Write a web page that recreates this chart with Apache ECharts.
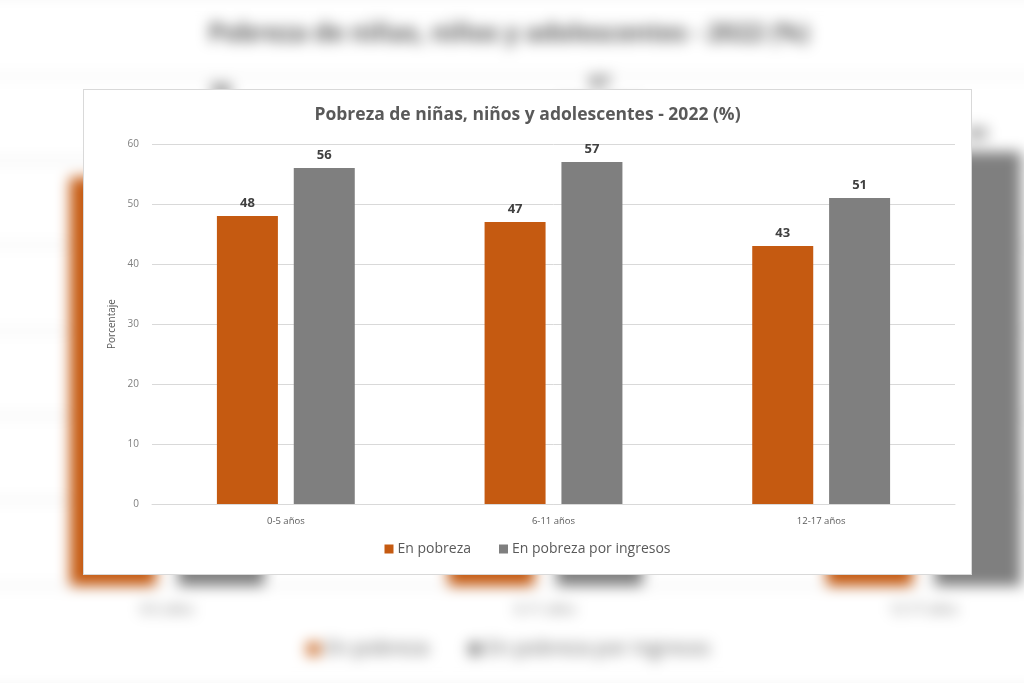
<!DOCTYPE html>
<html>
<head>
<meta charset="utf-8">
<script src="https://cdn.jsdelivr.net/npm/echarts@6/dist/echarts.min.js"></script>
<style>
  html, body { margin: 0; padding: 0; width: 1024px; height: 683px; overflow: hidden; background: #f6f6f6; }
  #bgwrap { position: absolute; left: 0; top: 0; width: 1024px; height: 683px; overflow: hidden; }
  #bg { position: absolute; left: -118px; top: -1px; width: 889px; height: 486px; background: #ffffff;
        transform: scale(1.41); transform-origin: 0 0; filter: blur(5px); }
  #card { position: absolute; left: 83px; top: 89px; width: 887px; height: 484px; background: #ffffff;
          border: 1px solid #d9d9d9; }
  #main { width: 887px; height: 484px; }
</style>
</head>
<body>
<div id="bgwrap"><div id="bg"></div></div>
<div id="card"><div id="main"></div></div>
<script>
const title = 'Pobreza de niñas, niños y adolescentes - 2022 (%)';
const categories = ['0-5 años', '6-11 años', '12-17 años'];
const seriesNames = ['En pobreza', 'En pobreza por ingresos'];
const enPobreza = [48, 47, 43];
const enPobrezaIngresos = [56, 57, 51];
const yTicks = [0, 10, 20, 30, 40, 50, 60];
const yAxisName = 'Porcentaje';

const FONT = '"Open Sans", "Liberation Sans", sans-serif';

function makeOption() {
  return {
    animation: false,
    textStyle: { fontFamily: FONT },
    title: {
      text: title,
      left: 'center',
      top: 11,
      textStyle: { fontFamily: FONT, fontSize: 17.5, fontWeight: 'bold', color: '#595959' }
    },
    legend: {
      data: seriesNames,
      bottom: 13,
      left: 'center',
      itemWidth: 9,
      itemHeight: 9,
      itemGap: 28,
      icon: 'rect',
      textStyle: { fontFamily: FONT, fontSize: 14, color: '#595959', padding: [0, 0, 0, -1] }
    },
    grid: { left: 68, right: 16, top: 54, bottom: 70, containLabel: false },
    xAxis: {
      type: 'category',
      data: categories,
      axisTick: { show: false },
      axisLine: { lineStyle: { color: '#d9d9d9', width: 1 } },
      axisLabel: { fontFamily: FONT, fontSize: 9.5, color: '#595959', margin: 12 }
    },
    yAxis: {
      type: 'value',
      min: yTicks[0],
      max: yTicks[yTicks.length - 1],
      interval: 10,
      name: yAxisName,
      nameLocation: 'middle',
      nameGap: 34,
      nameTextStyle: { fontFamily: FONT, fontSize: 10, color: '#595959' },
      axisLine: { show: false },
      axisTick: { show: false },
      axisLabel: { fontFamily: FONT, fontSize: 10, color: '#7f7f7f', margin: 13 },
      splitLine: { lineStyle: { color: '#d9d9d9', width: 1 } }
    },
    series: [
      {
        name: seriesNames[0],
        type: 'bar',
        data: enPobreza,
        barWidth: 61,
        barGap: '26%',
        itemStyle: { color: '#c55a11' },
        label: { show: true, position: 'top', distance: 6, fontFamily: FONT, fontSize: 13, fontWeight: 'bold', color: '#404040' }
      },
      {
        name: seriesNames[1],
        type: 'bar',
        data: enPobrezaIngresos,
        barWidth: 61,
        barGap: '26%',
        itemStyle: { color: '#7f7f7f' },
        label: { show: true, position: 'top', distance: 6, fontFamily: FONT, fontSize: 13, fontWeight: 'bold', color: '#404040' }
      }
    ]
  };
}

const bgChart = echarts.init(document.getElementById('bg'), null, { renderer: 'canvas' });
bgChart.setOption(makeOption());
const chart = echarts.init(document.getElementById('main'), null, { renderer: 'canvas' });
chart.setOption(makeOption());
</script>
</body>
</html>
